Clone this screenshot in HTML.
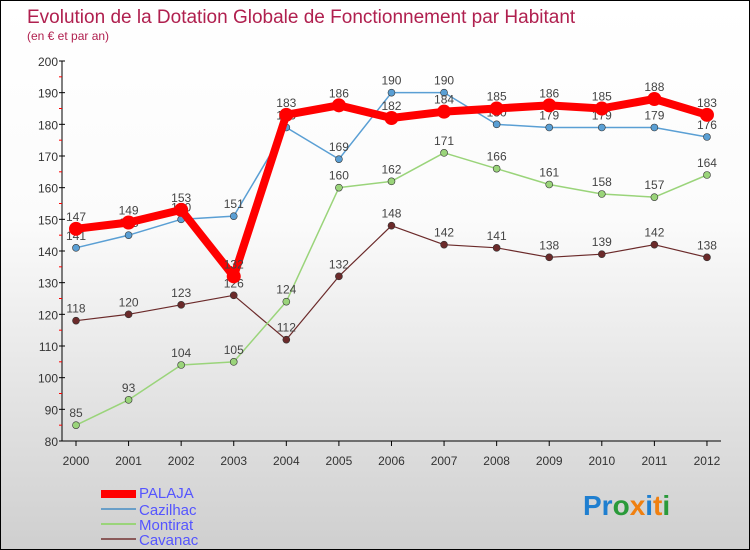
<!DOCTYPE html>
<html><head><meta charset="utf-8"><style>
body{margin:0}
#c{width:750px;height:550px;position:relative;box-sizing:border-box;border:1px solid #000;background:linear-gradient(#fff,#fbfbfb 40%,#cfcfcf);font-family:"Liberation Sans",sans-serif;overflow:hidden}
</style></head><body>
<div id="c">
<svg id="s" width="750" height="550" style="position:absolute;left:0;top:0">
<text x="26" y="22" font-size="19" fill="#b0204f">Evolution de la Dotation Globale de Fonctionnement par Habitant</text>
<text x="26" y="39" font-size="12" fill="#b0204f">(en € et par an)</text>
<g id="ax"></g><g id="ser"></g>
<g font-size="15" fill="#5555ff">
<rect x="100" y="489" width="35" height="8" fill="#f00"/>
<text x="138" y="497">PALAJA</text>
<rect x="100" y="507" width="35" height="2" fill="#6a9fc8"/>
<text x="138" y="514">Cazilhac</text>
<rect x="100" y="522" width="35" height="2" fill="#9ad47a"/>
<text x="138" y="529">Montirat</text>
<rect x="100" y="537" width="35" height="2" fill="#8a5a5a"/>
<text x="138" y="544">Cavanac</text>
</g>
<text x="582" y="514" font-size="28" font-weight="bold"><tspan fill="#1f7fd0">Pr</tspan><tspan fill="#2a9a3a">o</tspan><tspan fill="#f08010">x</tspan><tspan fill="#1f7fd0">i</tspan><tspan fill="#f08010">t</tspan><tspan fill="#2a9a3a">i</tspan></text>
</svg>
</div>
<script>
const years=[2000,2001,2002,2003,2004,2005,2006,2007,2008,2009,2010,2011,2012];
const yTicks=[80,90,100,110,120,130,140,150,160,170,180,190,200];
const palaja=[147,149,153,132,183,186,182,184,185,186,185,188,183];
const cazilhac=[141,145,150,151,179,169,190,190,180,179,179,179,176];
const montirat=[85,93,104,105,124,160,162,171,166,161,158,157,164];
const cavanac=[118,120,123,126,112,132,148,142,141,138,139,142,138];
const NS="http://www.w3.org/2000/svg";
const X=i=>75+i*52.58, Y=v=>440-(v-80)*3.1667;
function mk(t,a,p){const e=document.createElementNS(NS,t);for(const k in a)e.setAttribute(k,a[k]);p.appendChild(e);return e;}
const ax=document.getElementById('ax'), ser=document.getElementById('ser');
mk('line',{x1:61,y1:60,x2:61,y2:440,stroke:'#000'},ax);
mk('line',{x1:61,y1:440,x2:720,y2:440,stroke:'#000'},ax);
yTicks.forEach(v=>{
 const t=mk('text',{x:57,y:Y(v)+5,'font-size':12,fill:'#333','text-anchor':'end'},ax);t.textContent=v;
 
 
 mk('line',{x1:58,y1:Y(v),x2:64,y2:Y(v),stroke:'#000'},ax);
 if(v<200)mk('line',{x1:58,y1:Y(v+5),x2:61,y2:Y(v+5),stroke:'#f00'},ax);
});
years.forEach((y,i)=>{
 const t=mk('text',{x:X(i),y:464,'font-size':12,fill:'#333','text-anchor':'middle'},ax);t.textContent=y;
 
 
 mk('line',{x1:X(i),y1:440,x2:X(i),y2:445,stroke:'#000'},ax);
});
function draw(d,name,col,w,r){
 const g=mk('g',{},ser);
 
 
 mk('polyline',{points:d.map((v,i)=>X(i)+','+Y(v)).join(' '),fill:'none',stroke:col,'stroke-width':w,'stroke-linejoin':'round'},g);
 d.forEach((v,i)=>{
  const c=mk('circle',{cx:X(i),cy:Y(v),r:r,fill:col,stroke:w>3?col:'#333','stroke-width':w>3?0:0.6},g);
  
  
  const t=mk('text',{x:X(i),y:Y(v)-8,'font-size':12,fill:'#444','text-anchor':'middle'},g);t.textContent=v;
  
  
 });
}
draw(cavanac,'cavanac','#6b2a2a',1.2,3.5);
draw(montirat,'montirat','#9ad47a',1.5,3.5);
draw(cazilhac,'cazilhac','#5a9fd4',1.5,3.5);
draw(palaja,'palaja','#f00',8,7);
</script>
</body></html>
